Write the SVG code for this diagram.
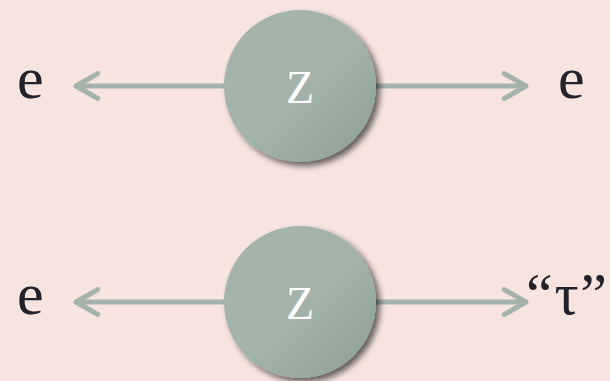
<svg xmlns="http://www.w3.org/2000/svg" width="610" height="381" viewBox="0 0 610 381">
<defs>
<linearGradient id="g" x1="0" y1="0" x2="1" y2="1">
<stop offset="0" stop-color="#a5b5ac"/>
<stop offset="0.55" stop-color="#a1b2a9"/>
<stop offset="1" stop-color="#8d9e95"/>
</linearGradient>
<filter id="sh" x="-20%" y="-20%" width="150%" height="150%">
<feGaussianBlur in="SourceAlpha" stdDeviation="3"/>
<feOffset dx="4" dy="4" result="b"/>
<feComponentTransfer><feFuncA type="linear" slope="0.6"/></feComponentTransfer>
<feMerge><feMergeNode/><feMergeNode in="SourceGraphic"/></feMerge>
</filter>
<marker id="ah" viewBox="0 0 10 10" refX="8.5" refY="5" markerWidth="6.2" markerHeight="6.2" orient="auto-start-reverse" markerUnits="strokeWidth">
<path d="M1.5,1 L8.5,5 L1.5,9" fill="none" stroke="#a3b3aa" stroke-width="1.6" stroke-linecap="round" stroke-linejoin="round"/>
</marker>
</defs>
<style>
.ln{stroke:#a3b3aa;stroke-width:5;fill:none}
.lbl{font-size:60px;fill:#23222b}
.z{font-size:46px;fill:#ffffff;text-anchor:middle}
</style>
<rect width="610" height="381" fill="#f7e4df"/>
<g id="connectors">
<line class="ln" x1="226" y1="86" x2="76" y2="86" marker-end="url(#ah)"/>
<line class="ln" x1="374" y1="86" x2="526" y2="86" marker-end="url(#ah)"/>
<line class="ln" x1="226" y1="302" x2="76" y2="302" marker-end="url(#ah)"/>
<line class="ln" x1="374" y1="302" x2="526" y2="302" marker-end="url(#ah)"/>
</g>
<g id="z1">
<circle cx="300" cy="86" r="76" fill="url(#g)" filter="url(#sh)"/>
<text class="z" font-family="Liberation Serif, serif" x="300" y="103">Z</text>
</g>
<g id="z2">
<circle cx="300" cy="302" r="76" fill="url(#g)" filter="url(#sh)"/>
<text class="z" font-family="Liberation Serif, serif" x="300" y="319">Z</text>
</g>
<g id="e1"><text class="lbl" font-family="Liberation Serif, serif" x="17" y="98">e</text></g>
<g id="e2"><text class="lbl" font-family="Liberation Serif, serif" x="558" y="98">e</text></g>
<g id="e3"><text class="lbl" font-family="Liberation Serif, serif" x="17" y="314">e</text></g>
<g id="tau"><text class="lbl" font-family="Liberation Serif, serif" x="526" y="314" textLength="81">“τ”</text></g>
</svg>
